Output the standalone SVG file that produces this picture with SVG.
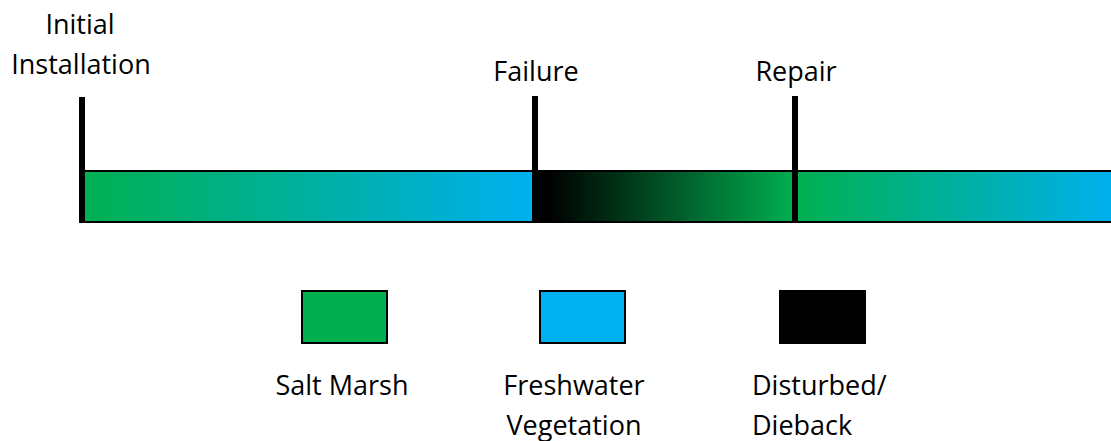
<svg xmlns="http://www.w3.org/2000/svg" width="1111" height="441" viewBox="0 0 1111 441">
<style>
text{font-family:"Open Sans","Liberation Sans",sans-serif;font-size:27px;fill:#000}
.bar{stroke:#000;stroke-width:2}
.tick{fill:#000}
.lg{stroke:#000;stroke-width:2}
</style>
<defs>
<linearGradient id="gb" x1="0" x2="1" y1="0" y2="0"><stop offset="0" stop-color="#00B050"/><stop offset="1" stop-color="#00B0F0"/></linearGradient>
<linearGradient id="kg" x1="0" x2="1" y1="0" y2="0"><stop offset="0" stop-color="#000"/><stop offset="0.05" stop-color="#000"/><stop offset="1" stop-color="#00B050"/></linearGradient>
</defs>
<rect width="1111" height="441" fill="#fff"/>
<g id="timeline">
<rect class="bar" x="82" y="171" width="452" height="51" fill="url(#gb)"/>
<rect class="bar" x="535" y="171" width="260" height="51" fill="url(#kg)"/>
<rect class="bar" x="795" y="171" width="320" height="51" fill="url(#gb)"/>
</g>
<g id="initial">
<rect class="tick" x="79" y="97" width="6" height="126"/>
<text x="80" y="34" text-anchor="middle">Initial</text>
<text x="81" y="74" text-anchor="middle">Installation</text>
</g>
<g id="failure">
<rect class="tick" x="532" y="96" width="6" height="126"/>
<text x="536" y="81" text-anchor="middle">Failure</text>
</g>
<g id="repair">
<rect class="tick" x="792" y="96" width="6" height="126"/>
<text x="796" y="81" text-anchor="middle">Repair</text>
</g>
<g id="legend-saltmarsh">
<rect class="lg" x="302" y="291" width="85" height="52" fill="#00B050"/>
<text x="342" y="395" text-anchor="middle">Salt Marsh</text>
</g>
<g id="legend-freshwater">
<rect class="lg" x="540" y="291" width="85" height="52" fill="#00B0F0"/>
<text x="574" y="395" text-anchor="middle">Freshwater</text>
<text x="574" y="435" text-anchor="middle">Vegetation</text>
</g>
<g id="legend-disturbed">
<rect class="lg" x="780" y="291" width="85" height="52" fill="#000"/>
<text x="752" y="395">Disturbed/</text>
<text x="752" y="435">Dieback</text>
</g>
</svg>
